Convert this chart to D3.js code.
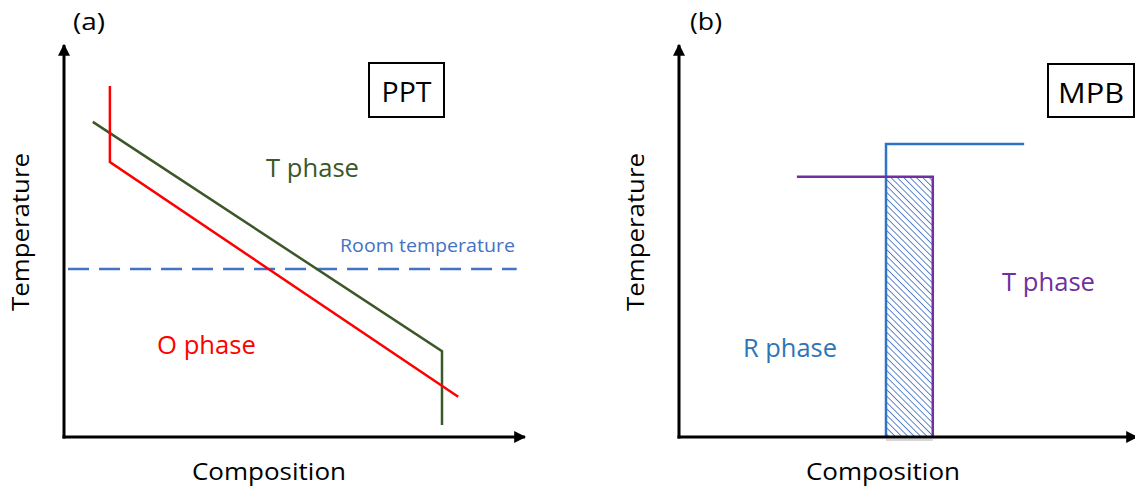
<!DOCTYPE html>
<html>
<head>
<meta charset="utf-8">
<script src="https://cdn.jsdelivr.net/npm/d3@7/dist/d3.min.js"></script>
<style>
  html, body { margin: 0; padding: 0; background: #fff; }
  svg { display: block; }
  text { font-family: "Open Sans", "Lato", sans-serif; }
</style>
</head>
<body>
<svg id="chart" width="1135" height="489"></svg>
<script>
// Schematic phase diagrams, both on a 0–100 composition / temperature scale.

// Panel (a): polymorphic phase transition
const ppt_O_boundary = [[10.2, 90.0], [10.2, 70.5], [87.6, 10.3]];   // red O/T boundary
const ppt_T_boundary = [[6.4, 80.8], [84.0, 22.0], [84.0, 3.1]];     // green boundary
const roomTemperature = 43.1;
const roomTempSpan = [0.9, 100.6];

// Panel (b): morphotropic phase boundary
const mpb_R_boundary = [[46.0, 0], [46.0, 75.1], [76.7, 75.1]];       // blue
const mpb_T_boundary = [[26.2, 66.7], [56.4, 66.7], [56.4, 0]];       // purple
const mpbRegion = { x0: 46.0, x1: 56.4, y0: 0, y1: 66.7 };

const panelNames = ["(a)", "(b)"];
const boxLabels = ["PPT", "MPB"];
const axisTitles = { x: "Composition", y: "Temperature" };

const svg = d3.select("#chart");
const defs = svg.append("defs");

defs.append("marker")
  .attr("id", "arrow")
  .attr("viewBox", "0 0 10 10")
  .attr("refX", 9).attr("refY", 5)
  .attr("markerWidth", 4).attr("markerHeight", 4)
  .attr("markerUnits", "strokeWidth")
  .attr("orient", "auto")
  .append("path").attr("d", "M0,0 L10,5 L0,10 Z").attr("fill", "#000");

// back-slash hatching for the two-phase region
defs.append("pattern")
  .attr("id", "hatch")
  .attr("patternUnits", "userSpaceOnUse")
  .attr("width", 4.5).attr("height", 4.5)
  .attr("patternTransform", "rotate(-45)")
  .append("line")
  .attr("x1", 0).attr("y1", 0).attr("x2", 0).attr("y2", 4.5)
  .attr("stroke", "#4472C4").attr("stroke-width", 1.7);

const yScale = d3.scaleLinear().domain([0, 100]).range([437, 47]);
const xA = d3.scaleLinear().domain([0, 100]).range([64, 514]);
const xB = d3.scaleLinear().domain([0, 100]).range([679, 1129]);

function drawAxes(x, xEnd, titleX, titleY) {
  const g = svg.append("g");
  g.append("line")
    .attr("x1", x(0)).attr("y1", yScale(0) + 1.5)
    .attr("x2", x(0)).attr("y2", 45)
    .attr("stroke", "#000").attr("stroke-width", 3)
    .attr("marker-end", "url(#arrow)");
  g.append("line")
    .attr("x1", x(0) - 1.5).attr("y1", yScale(0))
    .attr("x2", xEnd).attr("y2", yScale(0))
    .attr("stroke", "#000").attr("stroke-width", 3)
    .attr("marker-end", "url(#arrow)");
  g.append("text")
    .attr("x", titleX).attr("y", 480)
    .attr("font-size", 24).attr("fill", "#000")
    .attr("textLength", 154).attr("lengthAdjust", "spacingAndGlyphs")
    .text(axisTitles.x);
  g.append("text")
    .attr("transform", `translate(${titleY},232) rotate(-90)`)
    .attr("text-anchor", "middle")
    .attr("font-size", 24).attr("fill", "#000")
    .attr("textLength", 158).attr("lengthAdjust", "spacingAndGlyphs")
    .text(axisTitles.y);
}

function label(x, y, str, size, color, len) {
  return svg.append("text")
    .attr("x", x).attr("y", y)
    .attr("font-size", size).attr("fill", color)
    .attr("textLength", len).attr("lengthAdjust", "spacingAndGlyphs")
    .text(str);
}

function boxLabel(x0, y0, w, h, str, len) {
  svg.append("rect")
    .attr("x", x0).attr("y", y0).attr("width", w).attr("height", h)
    .attr("fill", "#fff").attr("stroke", "#000").attr("stroke-width", 2);
  svg.append("text")
    .attr("x", x0 + w / 2).attr("y", y0 + 39)
    .attr("text-anchor", "middle")
    .attr("font-size", 27).attr("fill", "#000")
    .attr("textLength", len).attr("lengthAdjust", "spacingAndGlyphs")
    .text(str);
}

// ---------- Panel (a) ----------
const lineA = d3.line().x(d => xA(d[0])).y(d => yScale(d[1]));

svg.append("line")
  .attr("x1", xA(roomTempSpan[0])).attr("x2", xA(roomTempSpan[1]))
  .attr("y1", yScale(roomTemperature)).attr("y2", yScale(roomTemperature))
  .attr("stroke", "#4472C4").attr("stroke-width", 2.5)
  .attr("stroke-dasharray", "21 10");

svg.append("path").datum(ppt_T_boundary)
  .attr("d", lineA).attr("fill", "none")
  .attr("stroke", "#3B5828").attr("stroke-width", 2.5);
svg.append("path").datum(ppt_O_boundary)
  .attr("d", lineA).attr("fill", "none")
  .attr("stroke", "#FF0000").attr("stroke-width", 2.5);

drawAxes(xA, 525, 192, 29);
label(73, 30, panelNames[0], 24, "#000", 32);
boxLabel(369, 63, 75, 54, boxLabels[0], 50);
label(266, 177, "T phase", 25, "#3B5828", 93);
label(157, 354, "O phase", 25, "#FF0000", 99);
label(340, 252, "Room temperature", 18, "#4472C4", 175);

// ---------- Panel (b) ----------
const lineB = d3.line().x(d => xB(d[0])).y(d => yScale(d[1]));

svg.append("rect")
  .attr("x", xB(mpbRegion.x0)).attr("y", yScale(mpbRegion.y1))
  .attr("width", xB(mpbRegion.x1) - xB(mpbRegion.x0))
  .attr("height", yScale(mpbRegion.y0) - yScale(mpbRegion.y1))
  .attr("fill", "url(#hatch)");
svg.append("line")
  .attr("x1", xB(mpbRegion.x0)).attr("x2", xB(mpbRegion.x1))
  .attr("y1", yScale(0) + 3).attr("y2", yScale(0) + 3)
  .attr("stroke", "#c8c8c8").attr("stroke-width", 1.5);

svg.append("path").datum(mpb_R_boundary)
  .attr("d", lineB).attr("fill", "none")
  .attr("stroke", "#2E75C6").attr("stroke-width", 2.5);
svg.append("path").datum(mpb_T_boundary)
  .attr("d", lineB).attr("fill", "none")
  .attr("stroke", "#7030A0").attr("stroke-width", 2.5);

drawAxes(xB, 1137, 806, 644);
label(690, 30, panelNames[1], 24, "#000", 32);
boxLabel(1048, 64, 86, 53, boxLabels[1], 66);
label(743, 357, "R phase", 25, "#2E75B6", 94);
label(1002, 291, "T phase", 25, "#7030A0", 93);
</script>
</body>
</html>
